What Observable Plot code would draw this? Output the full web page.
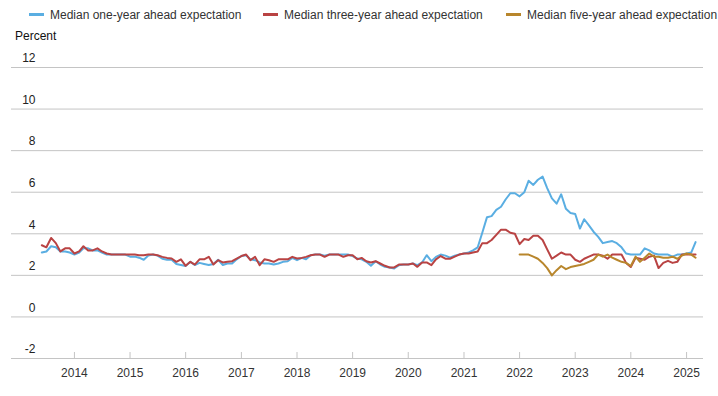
<!DOCTYPE html>
<html>
<head>
<meta charset="utf-8">
<script src="https://cdn.jsdelivr.net/npm/d3@7"></script>
<script src="https://cdn.jsdelivr.net/npm/@observablehq/plot@0.6"></script>
<style>
  html, body { margin: 0; padding: 0; background: #fff; }
  body { width: 718px; height: 396px; overflow: hidden; font-family: "Liberation Sans", Arial, sans-serif; }
  #head { position: relative; height: 48px; color: #333; font-size: 12px; }
  .item { position: absolute; top: 8px; line-height: 14px; white-space: nowrap; }
  .sw { display: inline-block; width: 15px; height: 3px; vertical-align: middle; margin-right: 6px; position: relative; top: -1px; }
  #unit { position: absolute; left: 15px; top: 29px; line-height: 14px; color: #111; }
  svg { display: block; }
</style>
</head>
<body>
<div id="head"></div>
<div id="chart"></div>
<script>
// Monthly observations, June 2013 – March 2025
const startMonth = "2013-06";
const oneYear = [
  3.1, 3.15, 3.4, 3.35, 3.15, 3.15, 3.1,
  3.0, 3.1, 3.3, 3.3, 3.2, 3.2, 3.1, 3.0, 3.0, 3.0, 3.0, 3.0,
  2.9, 2.9, 2.85, 2.75, 2.95, 3.0, 2.95, 2.8, 2.75, 2.75, 2.55, 2.5,
  2.45, 2.65, 2.5, 2.6, 2.55, 2.5, 2.55, 2.75, 2.5, 2.57, 2.57, 2.77,
  2.93, 2.97, 2.77, 2.73, 2.62, 2.57, 2.57, 2.52, 2.57, 2.65, 2.68, 2.84,
  2.73, 2.84, 2.77, 2.97, 3.0, 3.0, 2.95, 3.0, 3.0, 3.0, 3.0, 3.0,
  2.93, 2.81, 2.77, 2.65, 2.46, 2.68, 2.52, 2.41, 2.38, 2.33, 2.49, 2.52,
  2.52, 2.57, 2.49, 2.62, 2.97, 2.68, 2.89, 3.0, 2.95, 2.85, 2.95, 3.0,
  3.05, 3.1, 3.2, 3.35, 4.05, 4.8, 4.85, 5.15, 5.3, 5.65, 5.95, 5.95,
  5.8, 6.0, 6.55, 6.35, 6.6, 6.75, 6.2, 5.7, 5.45, 5.9, 5.2, 5.0,
  4.95, 4.25, 4.7, 4.4, 4.1, 3.85, 3.55, 3.6, 3.65, 3.55, 3.35, 3.05,
  3.0, 3.0, 3.0, 3.3, 3.2, 3.05, 3.0, 3.0, 3.0, 2.9, 3.0, 3.0,
  3.05, 3.1, 3.6
];
const threeYear = [
  3.45, 3.35, 3.8, 3.55, 3.15, 3.3, 3.3,
  3.05, 3.15, 3.4, 3.2, 3.2, 3.3, 3.15, 3.05, 3.0, 3.0, 3.0, 3.0,
  3.0, 3.0, 2.97, 2.97, 3.0, 3.0, 2.97, 2.89, 2.84, 2.81, 2.65, 2.77,
  2.46, 2.65, 2.52, 2.77, 2.77, 2.89, 2.52, 2.73, 2.62, 2.65, 2.68, 2.81,
  2.93, 3.0, 2.73, 2.89, 2.49, 2.77, 2.73, 2.65, 2.77, 2.77, 2.77, 2.89,
  2.81, 2.84, 2.89, 2.97, 3.0, 3.0, 2.89, 3.0, 3.0, 3.0, 2.89, 2.97,
  2.97, 2.77, 2.84, 2.68, 2.62, 2.68, 2.57, 2.46, 2.38, 2.38, 2.52, 2.52,
  2.52, 2.57, 2.41, 2.62, 2.62, 2.49, 2.77, 2.93, 2.8, 2.8, 2.9, 3.0,
  3.05, 3.05, 3.1, 3.15, 3.55, 3.55, 3.7, 3.95, 4.2, 4.2, 4.05, 4.0,
  3.5, 3.75, 3.7, 3.9, 3.9, 3.7, 3.25, 2.8, 2.95, 3.1, 3.0, 3.0,
  2.75, 2.65, 2.8, 2.9, 3.0, 3.0, 2.95, 2.8, 3.0, 3.0, 3.0, 2.6,
  2.4, 2.85, 2.8, 2.75, 2.9, 2.95, 2.35, 2.6, 2.7, 2.6, 2.65, 3.0,
  3.0, 3.0, 3.0
];
const fiveYearStart = "2022-01";
const fiveYear = [
  3.0, 3.0, 3.0, 2.9, 2.8, 2.6, 2.35, 2.0, 2.25, 2.45, 2.3, 2.4,
  2.45, 2.5, 2.55, 2.65, 2.75, 3.0, 2.9, 3.0, 2.85, 2.75, 2.65, 2.6,
  2.45, 2.9, 2.65, 2.85, 3.05, 2.9, 2.9, 2.85, 2.85, 2.9, 2.8, 2.95,
  3.05, 3.0, 2.85
];
const seriesNames = [
  "Median one-year ahead expectation",
  "Median three-year ahead expectation",
  "Median five-year ahead expectation"
];
const seriesColors = ["#5aaee2", "#b94343", "#b8862c"];
const yTicks = [-2, 0, 2, 4, 6, 8, 10, 12];
const yearTicks = [2014, 2015, 2016, 2017, 2018, 2019, 2020, 2021, 2022, 2023, 2024, 2025];

const parseMonth = d3.utcParse("%Y-%m");
function monthly(start, values, name) {
  const t0 = parseMonth(start);
  return values.map((v, i) => ({date: d3.utcMonth.offset(t0, i), value: v, series: name}));
}
const rows = [
  ...monthly(startMonth, oneYear, seriesNames[0]),
  ...monthly(startMonth, threeYear, seriesNames[1]),
  ...monthly(fiveYearStart, fiveYear, seriesNames[2])
];

// Legend + unit label
const head = document.getElementById("head");
const lefts = [29, 263, 506];
seriesNames.forEach((n, i) => {
  const it = document.createElement("div");
  it.className = "item";
  it.style.left = lefts[i] + "px";
  it.innerHTML = `<span class="sw" style="background:${seriesColors[i]}"></span>${n}`;
  head.appendChild(it);
});
const unit = document.createElement("div");
unit.id = "unit";
unit.textContent = "Percent";
head.appendChild(unit);

const yearDates = yearTicks.map(y => new Date(Date.UTC(y, 0, 1)));
const chart = Plot.plot({
  width: 718,
  height: 348,
  marginTop: 19,
  marginBottom: 38,
  marginLeft: 11,
  marginRight: 15,
  style: {fontFamily: "'Liberation Sans', Arial, sans-serif", fontSize: "12px", background: "#fff", overflow: "visible"},
  x: {type: "utc", domain: [new Date(Date.UTC(2012, 10, 14)), new Date(Date.UTC(2025, 3, 22))]},
  y: {domain: [-2, 12]},
  color: {domain: seriesNames, range: seriesColors},
  marks: [
    Plot.gridY(yTicks, {stroke: "#c4c4c4", strokeOpacity: 1, strokeWidth: 1}),
    Plot.axisY(yTicks, {anchor: "left", tickSize: 0, tickPadding: 0, dx: 24, dy: -9, textAnchor: "end", fill: "#222", label: null, fontSize: 12, tickFormat: d => String(d)}),
    Plot.axisX(yearDates, {anchor: "bottom", tickSize: -6, stroke: "#c4c4c4", fill: "none", label: null}),
    Plot.axisX(yearDates, {anchor: "bottom", tickSize: 0, tickPadding: 10, tickFormat: d3.utcFormat("%Y"), fill: "#333", label: null, fontSize: 12}),
    Plot.line(rows, {x: "date", y: "value", stroke: "series", z: "series", strokeWidth: 2, strokeLinejoin: "round", strokeLinecap: "round"})
  ]
});
document.getElementById("chart").appendChild(chart);
</script>
</body>
</html>
